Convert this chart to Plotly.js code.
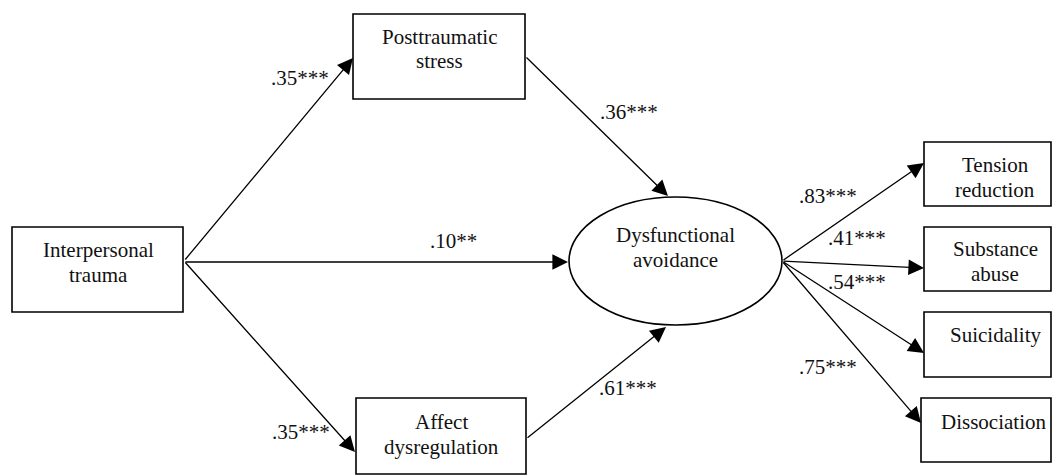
<!DOCTYPE html>
<html>
<head>
<meta charset="utf-8">
<script src="https://cdn.plot.ly/plotly-3.0.1.min.js"></script>
</head>
<body style="margin:0;background:#fff">
<div id="chart"></div>
<script>
// ---- data ----
const nodeIds = ["IT", "PS", "AD", "DA", "TR", "SA", "SU", "DI"];
const nodeLabels = [
  ["Interpersonal", "trauma"],
  ["Posttraumatic", "stress"],
  ["Affect", "dysregulation"],
  ["Dysfunctional", "avoidance"],
  ["Tension", "reduction"],
  ["Substance", "abuse"],
  ["Suicidality"],
  ["Dissociation"]
];
const pathFrom = ["IT", "IT", "IT", "PS", "AD", "DA", "DA", "DA", "DA"];
const pathTo   = ["PS", "DA", "AD", "DA", "DA", "TR", "SA", "SU", "DI"];
const pathCoef = [".35", ".10", ".35", ".36", ".61", ".83", ".41", ".54", ".75"];
const pathSig  = ["***", "**", "***", "***", "***", "***", "***", "***", "***"];

// ---- layout geometry, in pixels of the 1052x475 canvas ----
const W = 1052, H = 475;
const nodeGeom = {
  IT: {shape: "rect",   x0: 12,  y0: 227, x1: 183,  y1: 312, tx: 98,  ty: 250},
  PS: {shape: "rect",   x0: 353, y0: 14,  x1: 525,  y1: 99,  tx: 439, ty: 37},
  AD: {shape: "rect",   x0: 356, y0: 398, x1: 526,  y1: 474, tx: 441, ty: 422},
  DA: {shape: "circle", x0: 569, y0: 197, x1: 782,  y1: 325, tx: 675, ty: 235},
  TR: {shape: "rect",   x0: 924, y0: 142, x1: 1051, y1: 206, tx: 995, ty: 165},
  SA: {shape: "rect",   x0: 924, y0: 227, x1: 1051, y1: 291, tx: 995, ty: 249},
  SU: {shape: "rect",   x0: 924, y0: 312, x1: 1051, y1: 377, tx: 995, ty: 335},
  DI: {shape: "rect",   x0: 921, y0: 398, x1: 1051, y1: 462, tx: 993, ty: 422}
};
const lineGap = 24.5;
const pathGeom = [
  {sx: 184, sy: 261, ex: 353, ey: 58,  lx: 300, ly: 78},
  {sx: 184, sy: 262, ex: 568, ey: 262, lx: 453, ly: 241},
  {sx: 184, sy: 261, ex: 355, ey: 452, lx: 301, ly: 432},
  {sx: 525, sy: 56,  ex: 668, ey: 196, lx: 629, ly: 112},
  {sx: 526, sy: 439, ex: 666, ey: 327, lx: 628, ly: 388},
  {sx: 782, sy: 261, ex: 924, ey: 163, lx: 828, ly: 196},
  {sx: 782, sy: 261, ex: 924, ey: 268, lx: 857, ly: 238},
  {sx: 782, sy: 261, ex: 924, ey: 353, lx: 857, ly: 282},
  {sx: 782, sy: 261, ex: 921, ey: 423, lx: 828, ly: 367}
];

const px = x => x / W;
const py = y => 1 - y / H;
const FAM = "Liberation Serif";

const shapes = [];
const annotations = [];

nodeIds.forEach((id, i) => {
  const g = nodeGeom[id];
  shapes.push({type: g.shape, xref: "paper", yref: "paper",
    x0: px(g.x0), x1: px(g.x1), y0: py(g.y0), y1: py(g.y1),
    line: {color: "#000000", width: 1.6}});
  nodeLabels[i].forEach((txt, k) => {
    annotations.push({
      xref: "paper", yref: "paper", x: px(g.tx), y: py(g.ty + k * lineGap),
      text: txt, showarrow: false,
      font: {family: FAM, size: 21, color: "#111111"},
      xanchor: "center", yanchor: "middle"
    });
  });
});

pathFrom.forEach((f, i) => {
  const p = pathGeom[i];
  annotations.push({
    xref: "paper", yref: "paper",
    x: px(p.ex), y: py(p.ey), ax: p.sx - p.ex, ay: p.sy - p.ey,
    text: "", showarrow: true,
    arrowhead: 2, arrowsize: 2.4, arrowwidth: 1.3, arrowcolor: "#000000",
    standoff: 0, startstandoff: 0
  });
  annotations.push({
    xref: "paper", yref: "paper", x: px(p.lx), y: py(p.ly),
    text: pathCoef[i] + pathSig[i], showarrow: false,
    font: {family: FAM, size: 21, color: "#111111"},
    xanchor: "center", yanchor: "middle"
  });
});

Plotly.newPlot("chart", [], {
  width: W, height: H,
  margin: {l: 0, r: 0, t: 0, b: 0, pad: 0},
  paper_bgcolor: "#ffffff", plot_bgcolor: "#ffffff",
  xaxis: {visible: false}, yaxis: {visible: false},
  showlegend: false,
  shapes: shapes,
  annotations: annotations
}, {staticPlot: true});
</script>
</body>
</html>
